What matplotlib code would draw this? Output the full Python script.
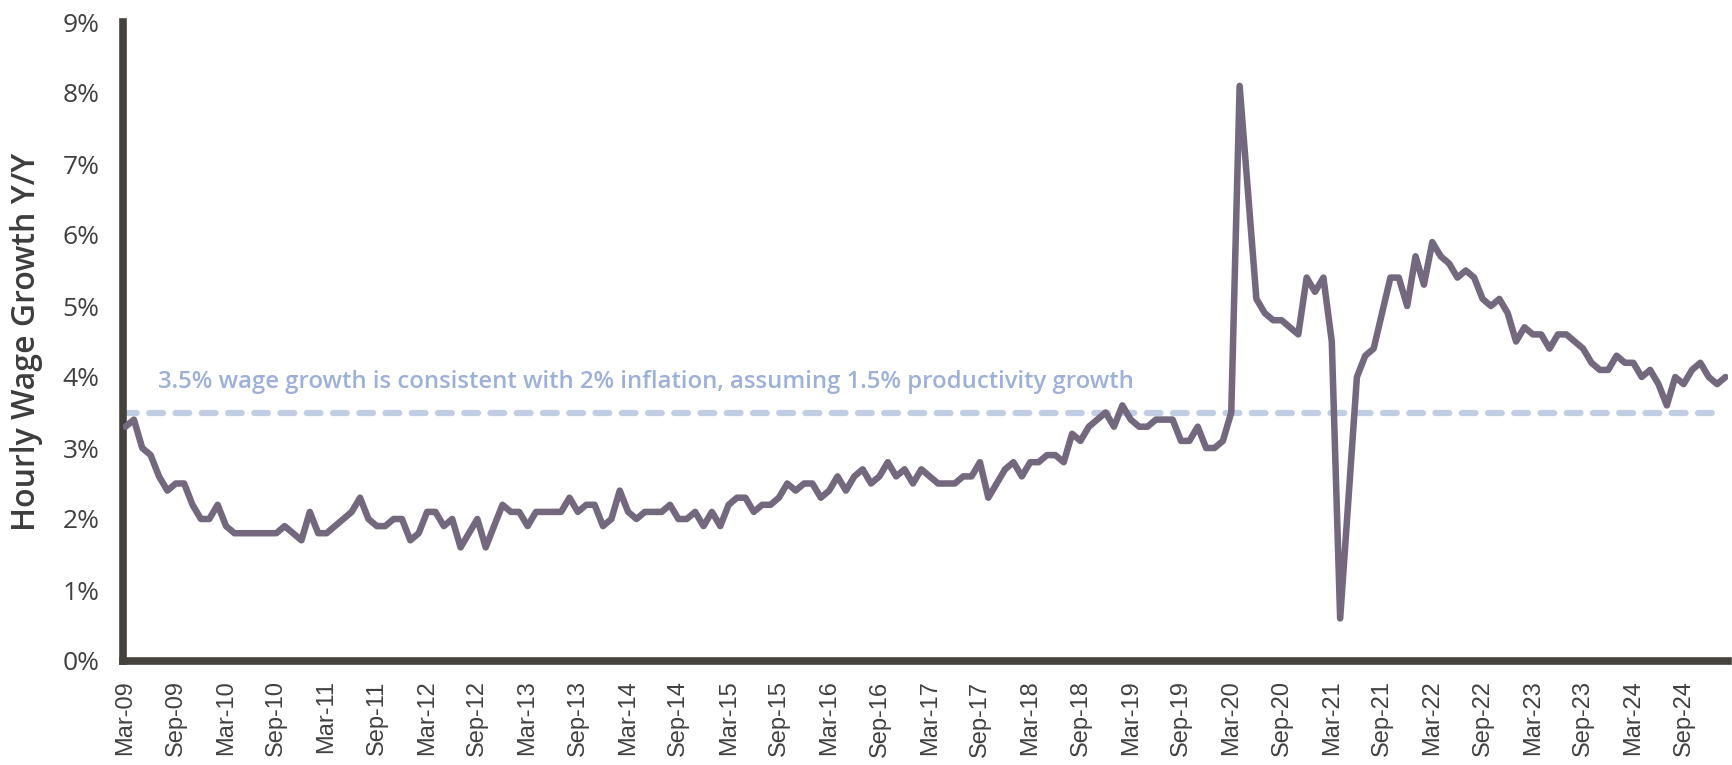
import matplotlib
matplotlib.use("Agg")
import matplotlib.pyplot as plt
import numpy as np
import pandas as pd

# ---- data (monthly, Mar-09 .. Feb-25), % Y/Y ----
start_month = "2009-03"
wage_growth = [
    3.3, 3.4, 3.0, 2.9, 2.6, 2.4, 2.5, 2.5, 2.2, 2.0, 2.0, 2.2,
    1.9, 1.8, 1.8, 1.8, 1.8, 1.8, 1.8, 1.9, 1.8, 1.7, 2.1, 1.8,
    1.8, 1.9, 2.0, 2.1, 2.3, 2.0, 1.9, 1.9, 2.0, 2.0, 1.7, 1.8,
    2.1, 2.1, 1.9, 2.0, 1.6, 1.8, 2.0, 1.6, 1.9, 2.2, 2.1, 2.1,
    1.9, 2.1, 2.1, 2.1, 2.1, 2.3, 2.1, 2.2, 2.2, 1.9, 2.0, 2.4,
    2.1, 2.0, 2.1, 2.1, 2.1, 2.2, 2.0, 2.0, 2.1, 1.9, 2.1, 1.9,
    2.2, 2.3, 2.3, 2.1, 2.2, 2.2, 2.3, 2.5, 2.4, 2.5, 2.5, 2.3,
    2.4, 2.6, 2.4, 2.6, 2.7, 2.5, 2.6, 2.8, 2.6, 2.7, 2.5, 2.7,
    2.6, 2.5, 2.5, 2.5, 2.6, 2.6, 2.8, 2.3, 2.5, 2.7, 2.8, 2.6,
    2.8, 2.8, 2.9, 2.9, 2.8, 3.2, 3.1, 3.3, 3.4, 3.5, 3.3, 3.6,
    3.4, 3.3, 3.3, 3.4, 3.4, 3.4, 3.1, 3.1, 3.3, 3.0, 3.0, 3.1,
    3.5, 8.1, 6.6, 5.1, 4.9, 4.8, 4.8, 4.7, 4.6, 5.4, 5.2, 5.4,
    4.5, 0.6, 2.3, 4.0, 4.3, 4.4, 4.9, 5.4, 5.4, 5.0, 5.7, 5.3,
    5.9, 5.7, 5.6, 5.4, 5.5, 5.4, 5.1, 5.0, 5.1, 4.9, 4.5, 4.7,
    4.6, 4.6, 4.4, 4.6, 4.6, 4.5, 4.4, 4.2, 4.1, 4.1, 4.3, 4.2,
    4.2, 4.0, 4.1, 3.9, 3.6, 4.0, 3.9, 4.1, 4.2, 4.0, 3.9, 4.0,
]
threshold = 3.5
annotation = "3.5% wage growth is consistent with 2% inflation, assuming 1.5% productivity growth"
y_ticks = [0, 1, 2, 3, 4, 5, 6, 7, 8, 9]
y_label = "Hourly Wage Growth Y/Y"

months = pd.period_range(start=start_month, periods=len(wage_growth), freq="M")
month_labels = [p.strftime("%b-%y") for p in months]
x = np.arange(len(wage_growth))

# ---- styling ----
W, H, DPI = 1733, 765, 100
fig = plt.figure(figsize=(W / DPI, H / DPI), dpi=DPI)
ax = fig.add_axes([123 / W, (H - 661) / H, (1728 - 123) / W, (661 - 22) / H])

line_col = "#74687f"
ref_col = "#c1cde3"
text_col = "#9cb0d8"
axis_col = "#45423d"
label_col = "#404040"

ax.plot(x, wage_growth, color=line_col, lw=4.7, solid_joinstyle="round",
        solid_capstyle="round", zorder=3)
ax.plot([x[0] - 0.3, x[-1] - 1.1], [threshold, threshold], color=ref_col, lw=4.5,
        dashes=(2.2, 2.0), dash_capstyle="round", zorder=2)
ax.text(3.9, threshold + 0.43, annotation, color=text_col, fontsize=17.2,
        fontfamily="Open Sans", fontweight="semibold", va="center", ha="left",
        zorder=4)

ax.set_xlim(-0.3, len(wage_growth) - 1 + 0.3)
ax.set_ylim(0, 9)

tick_idx = x[::6]
ax.set_xticks(tick_idx)
ax.set_xticklabels([month_labels[i] for i in tick_idx], rotation=90,
                   fontsize=17, fontfamily="Liberation Sans", color=label_col)
ax.set_yticks(y_ticks)
ax.set_yticklabels([f"{v}%" for v in y_ticks], fontsize=19,
                   fontfamily="Open Sans", color=label_col)
ax.tick_params(axis="both", length=0)
ax.tick_params(axis="x", pad=14)
ax.tick_params(axis="y", pad=17)

for s in ["top", "right"]:
    ax.spines[s].set_visible(False)
for s in ["left", "bottom"]:
    ax.spines[s].set_color(axis_col)
    ax.spines[s].set_linewidth(5.5)
    ax.spines[s].set_capstyle("projecting")

ax.text(-0.0601, 0.5, y_label, transform=ax.transAxes, rotation=90,
        ha="center", va="center", fontsize=23, fontfamily="Open Sans",
        fontweight="semibold", color="#3d3d3d")

fig.savefig("out.png", dpi=DPI)
